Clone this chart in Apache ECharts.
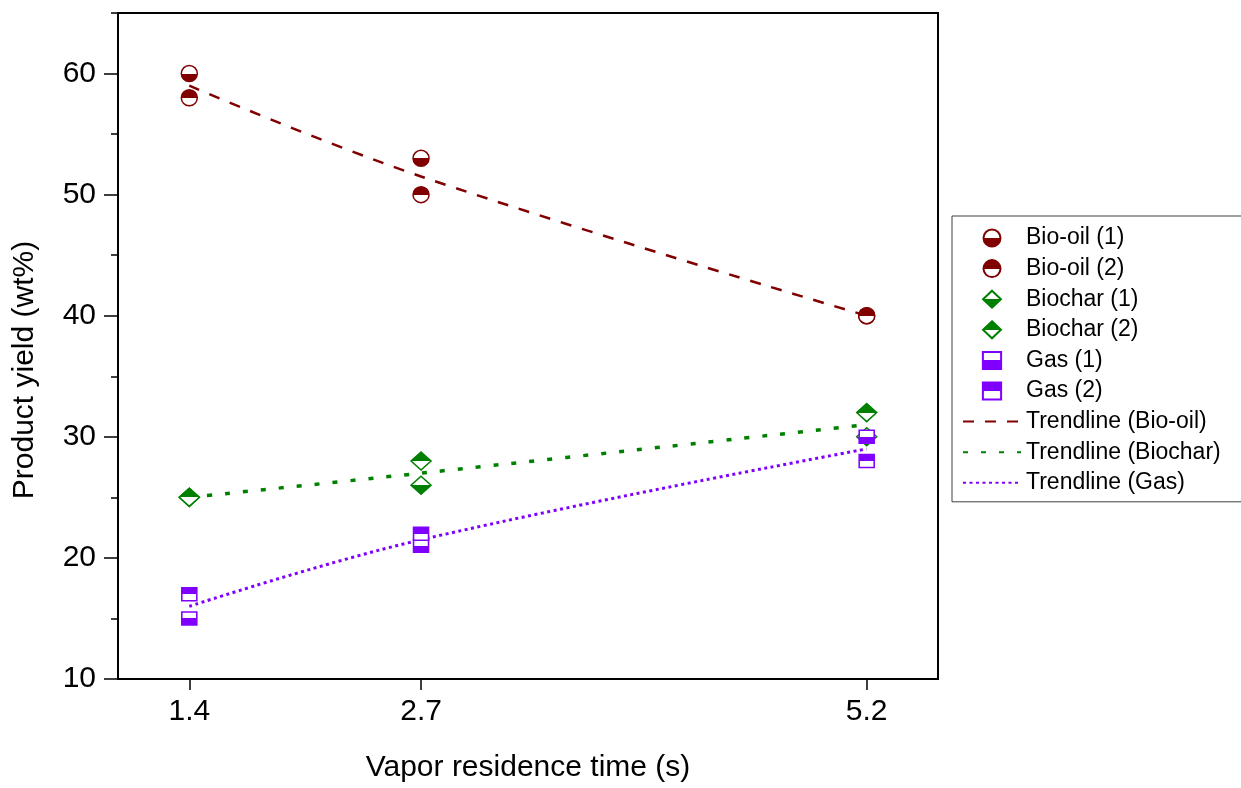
<!DOCTYPE html>
<html>
<head>
<meta charset="utf-8">
<script src="https://cdn.jsdelivr.net/npm/echarts@6/dist/echarts.min.js"></script>
<style>html,body{margin:0;padding:0;background:#fff}#c{width:1241px;height:788px}</style>
</head>
<body>
<div id="c"></div>
<script>
const xValues = [1.4, 2.7, 5.2];
const bioOil1 = [60, 53, 40];
const bioOil2 = [58, 50, 40];
const biochar1 = [25, 26, 30];
const biochar2 = [25, 28, 32];
const gas1 = [15, 21, 30];
const gas2 = [17, 22, 28];
const trendBioOil = [59, 51.5, 40];
const trendBiochar = [25, 27, 31];
const trendGas = [16, 21.5, 29];
const yMajorTicks = [10, 20, 30, 40, 50, 60];
const yMinorTicks = [15, 25, 35, 45, 55, 65];

const C_OIL = '#800000', C_CHAR = '#008000', C_GAS = '#8000ff';
const FONT = 'Arial, "Liberation Sans", sans-serif';
const SYM_DIAMOND = 'path://M10,0L20,9.5L10,19L0,9.5Z';
const SYM_RECT = 'path://M0,0L15,0L15,14L0,14Z';

function pairs(vals) { return xValues.map((x, i) => [x, vals[i]]); }
function half(color, bottomFilled) {
  const w = '#ffffff';
  const stops = bottomFilled
    ? [{offset: 0, color: w}, {offset: 0.5, color: w}, {offset: 0.5, color: color}, {offset: 1, color: color}]
    : [{offset: 0, color: color}, {offset: 0.5, color: color}, {offset: 0.5, color: w}, {offset: 1, color: w}];
  return new echarts.graphic.LinearGradient(0, 0, 0, 1, stops);
}
function scatter(name, vals, color, bottomFilled, symbol, size) {
  return {
    name, type: 'scatter', data: pairs(vals), symbol, symbolSize: size, symbolKeepAspect: true,
    itemStyle: {color: half(color, bottomFilled), borderColor: color, borderWidth: 1.5, opacity: 1},
    emphasis: {disabled: true}
  };
}
function trend(name, vals, color, width, dash) {
  return {
    name, type: 'line', data: pairs(vals), smooth: 0.4, symbol: 'none', showSymbol: false,
    legendIcon: 'none',
    lineStyle: {color, width, type: dash}, itemStyle: {color: 'rgba(0,0,0,0)', borderWidth: 0}, z: 1,
    emphasis: {disabled: true}
  };
}

const chart = echarts.init(document.getElementById('c'), null, {renderer: 'canvas'});
chart.setOption({
  animation: false,
  backgroundColor: '#fff',
  grid: {left: 118, right: 303, top: 13, bottom: 107, show: true, borderColor: '#000', borderWidth: 2, backgroundColor: 'transparent'},
  xAxis: {
    type: 'value', min: 1.0, max: 5.6,
    name: 'Vapor residence time (s)', nameLocation: 'middle', nameGap: 74,
    nameTextStyle: {fontSize: 30, color: '#000', fontFamily: FONT},
    axisLine: {show: true, onZero: false, lineStyle: {color: '#000', width: 2}},
    axisTick: {show: true, inside: false, length: 11, customValues: xValues, lineStyle: {color: '#000', width: 1.5}},
    axisLabel: {show: true, customValues: xValues, margin: 18, fontSize: 30, color: '#000', fontFamily: FONT, formatter: v => v.toFixed(1)},
    splitLine: {show: false}
  },
  yAxis: [{
    type: 'value', min: 10, max: 65, position: 'left',
    name: 'Product yield (wt%)', nameLocation: 'middle', nameGap: 78,
    nameTextStyle: {fontSize: 30, color: '#000', fontFamily: FONT, padding: [0, 48, 0, 0]},
    axisLine: {show: true, onZero: false, lineStyle: {color: '#000', width: 2}},
    axisTick: {show: true, inside: false, length: 14, customValues: yMajorTicks, lineStyle: {color: '#000', width: 1.5}},
    axisLabel: {show: true, customValues: yMajorTicks, margin: 22, fontSize: 30, color: '#000', fontFamily: FONT},
    splitLine: {show: false}
  }, {
    type: 'value', min: 10, max: 65, position: 'left', offset: 0,
    axisLine: {show: false},
    axisTick: {show: true, inside: false, length: 7, customValues: yMinorTicks, lineStyle: {color: '#000', width: 1.5}},
    axisLabel: {show: false},
    splitLine: {show: false}
  }],
  legend: {
    orient: 'vertical', left: 952, top: 216,
    padding: [10, 40, 7, 10], itemGap: 6.6, itemWidth: 58, itemHeight: 17,
    symbolKeepAspect: true,
    borderColor: '#404040', borderWidth: 1, backgroundColor: '#fff',
    textStyle: {fontSize: 23, lineHeight: 24, color: '#000', fontFamily: FONT},
    data: ['Bio-oil (1)', 'Bio-oil (2)', 'Biochar (1)', 'Biochar (2)', 'Gas (1)', 'Gas (2)',
           'Trendline (Bio-oil)', 'Trendline (Biochar)', 'Trendline (Gas)'],
    selectedMode: false
  },
  series: [
    trend('Trendline (Bio-oil)', trendBioOil, C_OIL, 2.5, [11, 11]),
    trend('Trendline (Biochar)', trendBiochar, C_CHAR, 3.5, [5, 13]),
    trend('Trendline (Gas)', trendGas, C_GAS, 3, [3, 3.5]),
    scatter('Bio-oil (1)', bioOil1, C_OIL, true, 'circle', 16),
    scatter('Bio-oil (2)', bioOil2, C_OIL, false, 'circle', 16),
    scatter('Biochar (1)', biochar1, C_CHAR, true, SYM_DIAMOND, [20, 19]),
    scatter('Biochar (2)', biochar2, C_CHAR, false, SYM_DIAMOND, [20, 19]),
    scatter('Gas (1)', gas1, C_GAS, true, SYM_RECT, [15, 14]),
    scatter('Gas (2)', gas2, C_GAS, false, SYM_RECT, [15, 14])
  ]
});
</script>
</body>
</html>
